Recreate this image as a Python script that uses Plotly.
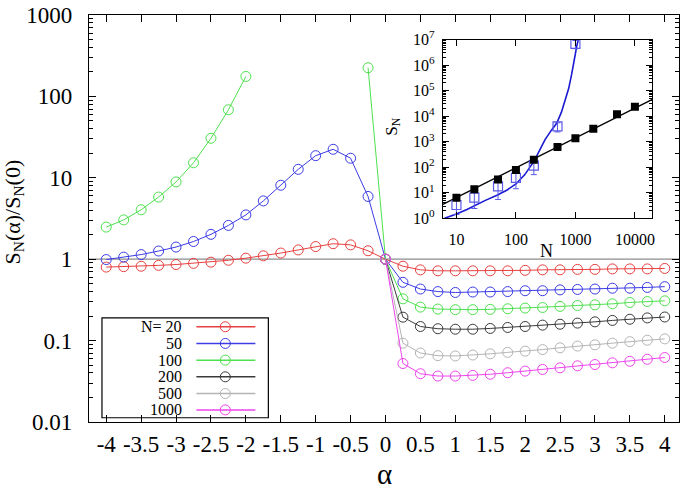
import plotly.graph_objects as go

# ---------------- data ----------------
alpha = [-4, -3.75, -3.5, -3.25, -3, -2.75, -2.5, -2.25, -2, -1.75, -1.5, -1.25, -1, -0.75, -0.5, -0.25,
         0,
         0.25, 0.5, 0.75, 1, 1.25, 1.5, 1.75, 2, 2.25, 2.5, 2.75, 3, 3.25, 3.5, 3.75, 4]

N_labels = ["N= 20", "50", "100", "200", "500", "1000"]
colors = ["#e84040", "#3c3ce6", "#4ee04e", "#3a3a3a", "#b4b4b4", "#ee44ee"]

none16 = [None] * 16
s20 = [0.80, 0.81, 0.82, 0.84, 0.86, 0.89, 0.92, 0.97, 1.03, 1.10, 1.19, 1.30, 1.43, 1.55, 1.50, 1.27,
       1.0,
       0.82, 0.74, 0.72, 0.72, 0.72, 0.72, 0.72, 0.73, 0.74, 0.74, 0.75, 0.75, 0.76, 0.76, 0.76, 0.77]
s50 = [0.99, 1.06, 1.14, 1.26, 1.41, 1.65, 2.02, 2.6, 3.5, 5.2, 8.1, 12.7, 18.7, 22.4, 17.4, 5.9,
       1.0,
       0.52, 0.43, 0.40, 0.39, 0.395, 0.395, 0.40, 0.41, 0.41, 0.42, 0.425, 0.43, 0.44, 0.44, 0.45, 0.46]
s100 = [2.48, 3.04, 4.05, 5.8, 8.9, 15.3, 30.6, 68.5, 176, None, None, None, None, None, None, 225,
        1.0,
        0.326, 0.258, 0.244, 0.240, 0.240, 0.242, 0.246, 0.251, 0.255, 0.263, 0.270, 0.275, 0.283, 0.294, 0.302, 0.308]
s200 = none16 + [1.0,
        0.194, 0.149, 0.140, 0.138, 0.138, 0.141, 0.145, 0.149, 0.155, 0.159, 0.164, 0.170, 0.177, 0.183, 0.190, 0.195]
s500 = none16 + [1.0,
        0.093, 0.0704, 0.0653, 0.0648, 0.0665, 0.0688, 0.0717, 0.0742, 0.0776, 0.0816, 0.0857, 0.0888, 0.093, 0.097, 0.101, 0.105]
s1000 = none16 + [1.0,
        0.0523, 0.0392, 0.0367, 0.0367, 0.0374, 0.0386, 0.0403, 0.0422, 0.0442, 0.0463, 0.0490, 0.0508, 0.0533, 0.0557, 0.0590, 0.0620]
series = [s20, s50, s100, s200, s500, s1000]

x_tickvals = [-4, -3.5, -3, -2.5, -2, -1.5, -1, -0.5, 0, 0.5, 1, 1.5, 2, 2.5, 3, 3.5, 4]
x_ticktext = ["-4", "-3.5", "-3", "-2.5", "-2", "-1.5", "-1", "-0.5", "0", "0.5", "1", "1.5", "2", "2.5", "3", "3.5", "4"]
y_tickvals = [0.01, 0.1, 1, 10, 100, 1000]
y_ticktext = ["0.01", "0.1", "1", "10", "100", "1000"]

# inset data
N_filled = [10, 20, 50, 100, 200, 500, 1000, 2000, 5000, 10000]
S_filled = [6.4, 13.5, 33, 77, 194, 615, 1365, 3200, 11800, 23200]
N_open = [10, 20, 50, 100, 200, 500, 1000]
S_open = [3.3, 6.4, 17.6, 38, 114, 3950, 6.8e6]
S_open_err = [1.9, 4.0, 12.2, 23.7, 63, 1550, 2.4e6]
fit_black_N = [5.9, 19700]
fit_black_S = [3.5, 45700]
fit_blue_N = [6.3, 10, 15, 20.8, 30, 48, 70, 100, 140, 203, 250, 309, 390, 484, 580, 670, 770, 865, 940, 1000, 1060, 1120]
fit_blue_S = [1.0, 1.45, 2.2, 3.3, 4.9, 7.9, 12.5, 22, 50, 177, 450, 1200, 2700, 5250, 14000, 41700, 1.2e5, 4.4e5, 1.3e6, 3.5e6, 6.0e6, 1.0e7]
inset_xtickvals = [10, 100, 1000, 10000]
inset_xticktext = ["10", "100", "1000", "10000"]
inset_ytickvals = [1, 10, 100, 1e3, 1e4, 1e5, 1e6, 1e7]
inset_yticktext = ["10<sup>%d</sup>" % k for k in range(8)]

FONT = "Liberation Serif, DejaVu Serif"

fig = go.Figure()

# main curves
for lab, col, ys in zip(N_labels, colors, series):
    fig.add_trace(go.Scatter(
        x=alpha, y=ys, mode="lines+markers", name=lab, connectgaps=False,
        line=dict(color=col, width=1),
        marker=dict(symbol="circle-open", size=10, color=col, line=dict(width=1, color=col)),
        showlegend=False, xaxis="x", yaxis="y"))

# inset traces
fig.add_trace(go.Scatter(x=fit_black_N, y=fit_black_S, mode="lines",
                         line=dict(color="black", width=1.3), xaxis="x2", yaxis="y2", showlegend=False))
fig.add_trace(go.Scatter(x=fit_blue_N, y=fit_blue_S, mode="lines",
                         line=dict(color="#1a1ad2", width=1.6), xaxis="x2", yaxis="y2", showlegend=False))
fig.add_trace(go.Scatter(x=N_open, y=S_open, mode="markers",
                         marker=dict(symbol="square-open", size=9, color="#5a5ae6", line=dict(width=1.2, color="#5a5ae6")),
                         error_y=dict(type="data", array=S_open_err, arrayminus=S_open_err, color="#5a5ae6",
                                      thickness=1, width=3),
                         xaxis="x2", yaxis="y2", showlegend=False))
fig.add_trace(go.Scatter(x=N_filled, y=S_filled, mode="markers",
                         marker=dict(symbol="square", size=8, color="black"),
                         xaxis="x2", yaxis="y2", showlegend=False))

# custom legend (text left, sample right)
leg_rows_y = [0.234, 0.193, 0.152, 0.111, 0.070, 0.0297]
for lab, col, yy in zip(N_labels, colors, leg_rows_y):
    fig.add_trace(go.Scatter(x=[0.182, 0.282], y=[yy, yy], mode="lines", line=dict(color=col, width=1.5),
                             xaxis="x3", yaxis="y3", showlegend=False, hoverinfo="skip"))
    fig.add_trace(go.Scatter(x=[0.231], y=[yy], mode="markers",
                             marker=dict(symbol="circle-open", size=10, color=col, line=dict(width=1, color=col)),
                             xaxis="x3", yaxis="y3", showlegend=False, hoverinfo="skip"))
    fig.add_annotation(x=0.161, y=yy, xref="paper", yref="paper", text=lab, showarrow=False,
                       xanchor="right", yanchor="middle", font=dict(family=FONT, size=16, color="black"))

axis_common = dict(showline=True, linecolor="black", linewidth=1.2, mirror="allticks",
                   ticks="inside", tickcolor="black", showgrid=False, zeroline=False)

fig.update_layout(
    width=685, height=489,
    margin=dict(l=89, r=4, t=8, b=67),
    paper_bgcolor="white", plot_bgcolor="white",
    font=dict(family=FONT, color="black"),
    xaxis=dict(range=[-4.247, 4.204], tickvals=x_tickvals, ticktext=x_ticktext, ticklen=7,
               tickfont=dict(family=FONT, size=23), ticklabelstandoff=1, **axis_common),
    yaxis=dict(type="log", range=[-2, 3], tickvals=y_tickvals, ticktext=y_ticktext, ticklen=7,
               tickfont=dict(family=FONT, size=23), ticklabelstandoff=11,
               minor=dict(ticks="inside", ticklen=4, tickcolor="black", dtick="D1"), **axis_common),
    xaxis2=dict(type="log", domain=[0.5997, 0.955], anchor="y2", range=[0.771, 4.295],
                tickvals=inset_xtickvals, ticktext=inset_xticktext, ticklen=6,
                tickfont=dict(family=FONT, size=16), ticklabelstandoff=6, **axis_common),
    yaxis2=dict(type="log", domain=[0.5007, 0.9396], anchor="x2", range=[0, 7],
                tickvals=inset_ytickvals, ticktext=inset_yticktext, ticklen=6,
                tickfont=dict(family=FONT, size=16), ticklabelstandoff=4,
                minor=dict(ticks="inside", ticklen=3, tickcolor="black", dtick="D1"), **axis_common),
    xaxis3=dict(domain=[0, 1], range=[0, 1], visible=False, anchor="y3", overlaying="x"),
    yaxis3=dict(domain=[0, 1], range=[0, 1], visible=False, anchor="x3", overlaying="y"),
    shapes=[
        dict(type="line", xref="paper", yref="y", x0=0, x1=1, y0=1, y1=1,
             line=dict(color="#8c8c8c", width=1.2), layer="below"),
        dict(type="rect", xref="paper", yref="paper", x0=0.5997, x1=0.955, y0=0.5007, y1=0.9396,
             fillcolor="white", line=dict(width=0), layer="below"),
        dict(type="rect", xref="paper", yref="paper", x0=0.022, x1=0.304, y0=0.0104, y1=0.256,
             fillcolor="white", line=dict(color="black", width=1.2), layer="below"),
    ],
)

# axis titles
fig.add_annotation(x=-0.127, y=0.515, xref="paper", yref="paper", textangle=-90, showarrow=False,
                   xanchor="center", yanchor="middle",
                   text="S<sub>N</sub>(α)/S<sub>N</sub>(0)", font=dict(family=FONT, size=22))
fig.add_annotation(x=0.5, y=-0.128, xref="paper", yref="paper", showarrow=False,
                   xanchor="center", yanchor="middle",
                   text="α", font=dict(family=FONT, size=29))
fig.add_annotation(x=0.775, y=0.42, xref="paper", yref="paper", showarrow=False,
                   xanchor="center", yanchor="middle",
                   text="N", font=dict(family=FONT, size=18))
fig.add_annotation(x=0.515, y=0.725, xref="paper", yref="paper", textangle=-90, showarrow=False,
                   xanchor="center", yanchor="middle",
                   text="S<sub>N</sub>", font=dict(family=FONT, size=17))

fig.write_html("out.html", config={"displayModeBar": False},
               post_script="document.body.style.margin='0px';")
